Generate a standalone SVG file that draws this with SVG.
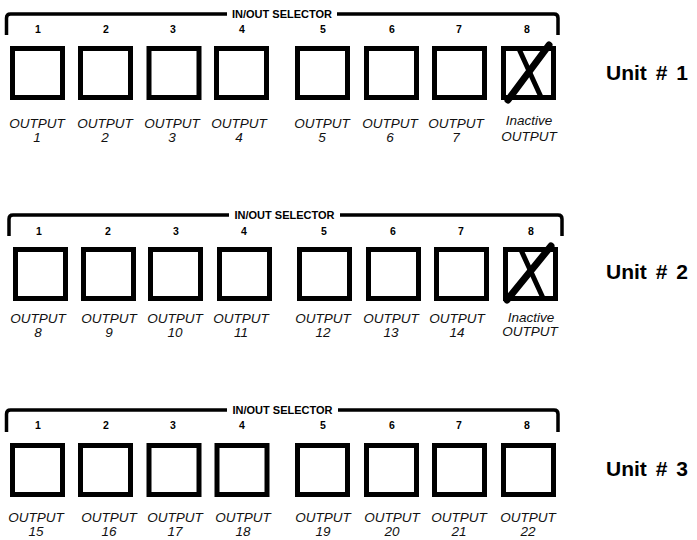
<svg xmlns="http://www.w3.org/2000/svg" width="697" height="540" viewBox="0 0 697 540">
<style>
.br{fill:none;stroke:#000;stroke-width:3.5}
.bx{fill:#fff;stroke:#000;stroke-width:5}
.xl{stroke:#000;stroke-linecap:round}
.sel{font-family:"Liberation Sans",Arial,sans-serif;font-weight:bold;font-size:11px;text-anchor:middle}
.num{font-family:"Liberation Sans",Arial,sans-serif;font-weight:bold;font-size:10.5px;text-anchor:middle}
.lbl{font-family:"Liberation Sans",Arial,sans-serif;font-style:italic;font-size:13.5px;text-anchor:middle;fill:#111}
.unit{font-family:"Liberation Sans",Arial,sans-serif;font-weight:bold;font-size:21px;word-spacing:3px}
</style>
<rect width="697" height="540" fill="#fff"/>

<!-- Unit 1 -->
<g id="unit1">
  <path class="br" d="M6.5,35 V18 Q6.5,14 10.5,14 H227 M337,14 H554 Q558,14 558,18 V35"/>
  <text class="sel" x="282" y="18">IN/OUT SELECTOR</text>
  <g class="num">
    <text x="38" y="33">1</text><text x="106" y="33">2</text><text x="173" y="33">3</text><text x="242" y="33">4</text>
    <text x="323" y="33">5</text><text x="392" y="33">6</text><text x="459" y="33">7</text><text x="527" y="33">8</text>
  </g>
  <g id="u1b1"><rect class="bx" x="12.5" y="48.5" width="50" height="49"/><text class="lbl" x="37" y="128">OUTPUT</text><text class="lbl" x="37" y="142">1</text></g>
  <g id="u1b2"><rect class="bx" x="80.5" y="48.5" width="50" height="49"/><text class="lbl" x="105" y="128">OUTPUT</text><text class="lbl" x="105" y="142">2</text></g>
  <g id="u1b3"><rect class="bx" x="149" y="48.5" width="50" height="49"/><text class="lbl" x="172" y="128">OUTPUT</text><text class="lbl" x="172" y="142">3</text></g>
  <g id="u1b4"><rect class="bx" x="216.5" y="48.5" width="50" height="49"/><text class="lbl" x="239" y="128">OUTPUT</text><text class="lbl" x="239" y="142">4</text></g>
  <g id="u1b5"><rect class="bx" x="297.5" y="48.5" width="50" height="49"/><text class="lbl" x="322" y="128">OUTPUT</text><text class="lbl" x="322" y="142">5</text></g>
  <g id="u1b6"><rect class="bx" x="366.5" y="48.5" width="50" height="49"/><text class="lbl" x="390" y="128">OUTPUT</text><text class="lbl" x="390" y="142">6</text></g>
  <g id="u1b7"><rect class="bx" x="434.5" y="48.5" width="50" height="49"/><text class="lbl" x="456" y="128">OUTPUT</text><text class="lbl" x="456" y="142">7</text></g>
  <g id="u1b8"><rect class="bx" x="503.5" y="48.5" width="50" height="49"/>
    <line class="xl" x1="519" y1="49" x2="541" y2="97" stroke-width="5"/>
    <line class="xl" x1="508" y1="100" x2="549" y2="45" stroke-width="7"/>
    <text class="lbl" x="529" y="125">Inactive</text><text class="lbl" x="529" y="141">OUTPUT</text></g>
  <text class="unit" x="606" y="80">Unit # 1</text>
</g>

<!-- Unit 2 -->
<g id="unit2">
  <path class="br" d="M9,236 V219 Q9,215 13,215 H229 M340,215 H558 Q562,215 562,219 V236"/>
  <text class="sel" x="284.5" y="219">IN/OUT SELECTOR</text>
  <g class="num">
    <text x="39" y="235">1</text><text x="108" y="235">2</text><text x="176" y="235">3</text><text x="244" y="235">4</text>
    <text x="324" y="235">5</text><text x="393" y="235">6</text><text x="461" y="235">7</text><text x="531" y="235">8</text>
  </g>
  <g id="u2b1"><rect class="bx" x="15.5" y="249.5" width="50" height="49"/><text class="lbl" x="38" y="323">OUTPUT</text><text class="lbl" x="38" y="337">8</text></g>
  <g id="u2b2"><rect class="bx" x="83.5" y="249.5" width="50" height="49"/><text class="lbl" x="109" y="323">OUTPUT</text><text class="lbl" x="109" y="337">9</text></g>
  <g id="u2b3"><rect class="bx" x="150.5" y="249.5" width="50" height="49"/><text class="lbl" x="175" y="323">OUTPUT</text><text class="lbl" x="175" y="337">10</text></g>
  <g id="u2b4"><rect class="bx" x="219.5" y="249.5" width="50" height="49"/><text class="lbl" x="241" y="323">OUTPUT</text><text class="lbl" x="241" y="337">11</text></g>
  <g id="u2b5"><rect class="bx" x="299.5" y="249.5" width="50" height="49"/><text class="lbl" x="323" y="323">OUTPUT</text><text class="lbl" x="323" y="337">12</text></g>
  <g id="u2b6"><rect class="bx" x="368.5" y="249.5" width="50" height="49"/><text class="lbl" x="391" y="323">OUTPUT</text><text class="lbl" x="391" y="337">13</text></g>
  <g id="u2b7"><rect class="bx" x="436.5" y="249.5" width="50" height="49"/><text class="lbl" x="457" y="323">OUTPUT</text><text class="lbl" x="457" y="337">14</text></g>
  <g id="u2b8"><rect class="bx" x="505.5" y="249.5" width="50" height="49"/>
    <line class="xl" x1="521" y1="250" x2="543" y2="298" stroke-width="5"/>
    <line class="xl" x1="507" y1="300" x2="551" y2="246" stroke-width="7"/>
    <text class="lbl" x="531" y="322">Inactive</text><text class="lbl" x="530" y="336">OUTPUT</text></g>
  <text class="unit" x="606" y="279">Unit # 2</text>
</g>

<!-- Unit 3 -->
<g id="unit3">
  <path class="br" d="M6.5,432 V414 Q6.5,410 10.5,410 H227 M338,410 H554 Q558,410 558,414 V432"/>
  <text class="sel" x="282.5" y="414">IN/OUT SELECTOR</text>
  <g class="num">
    <text x="38" y="429">1</text><text x="106" y="429">2</text><text x="173" y="429">3</text><text x="242" y="429">4</text>
    <text x="323" y="429">5</text><text x="392" y="429">6</text><text x="459" y="429">7</text><text x="527" y="429">8</text>
  </g>
  <g id="u3b1"><rect class="bx" x="12.5" y="445.5" width="50" height="49"/><text class="lbl" x="36" y="522">OUTPUT</text><text class="lbl" x="36" y="536">15</text></g>
  <g id="u3b2"><rect class="bx" x="80.5" y="445.5" width="50" height="49"/><text class="lbl" x="109" y="522">OUTPUT</text><text class="lbl" x="109" y="536">16</text></g>
  <g id="u3b3"><rect class="bx" x="149" y="445.5" width="50" height="49"/><text class="lbl" x="175" y="522">OUTPUT</text><text class="lbl" x="175" y="536">17</text></g>
  <g id="u3b4"><rect class="bx" x="217" y="445.5" width="50" height="49"/><text class="lbl" x="243" y="522">OUTPUT</text><text class="lbl" x="243" y="536">18</text></g>
  <g id="u3b5"><rect class="bx" x="297.5" y="445.5" width="50" height="49"/><text class="lbl" x="323" y="522">OUTPUT</text><text class="lbl" x="323" y="536">19</text></g>
  <g id="u3b6"><rect class="bx" x="366.5" y="445.5" width="50" height="49"/><text class="lbl" x="392" y="522">OUTPUT</text><text class="lbl" x="392" y="536">20</text></g>
  <g id="u3b7"><rect class="bx" x="434.5" y="445.5" width="50" height="49"/><text class="lbl" x="459" y="522">OUTPUT</text><text class="lbl" x="459" y="536">21</text></g>
  <g id="u3b8"><rect class="bx" x="503.5" y="445.5" width="50" height="49"/><text class="lbl" x="528" y="522">OUTPUT</text><text class="lbl" x="528" y="536">22</text></g>
  <text class="unit" x="606" y="476">Unit # 3</text>
</g>
</svg>
